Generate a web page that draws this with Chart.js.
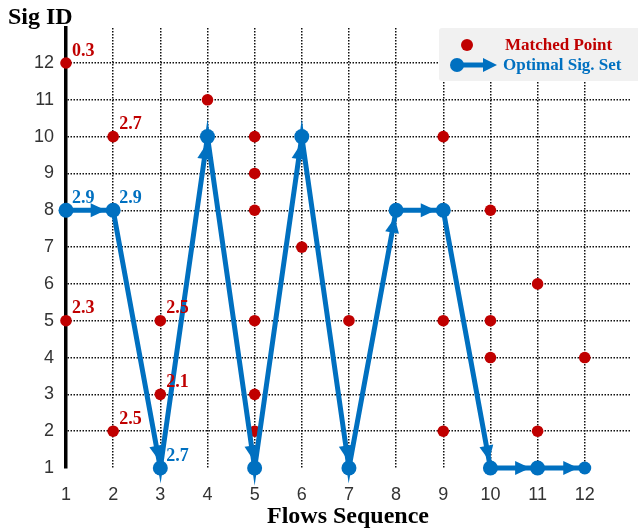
<!DOCTYPE html>
<html>
<head>
<meta charset="utf-8">
<script src="https://cdn.jsdelivr.net/npm/chart.js@4.4.0/dist/chart.umd.min.js"></script>
<style>
  html, body { margin: 0; padding: 0; background: #fff; }
  #wrap { position: relative; width: 638px; height: 531px; overflow: hidden; }
  #chart { position: absolute; left: 0; top: 0; }
  .ttl { position: absolute; font-family: "Liberation Serif", "Times New Roman", serif; font-weight: bold; font-size: 24px; color: #000; white-space: nowrap; line-height: 1; }
  #legend { position: absolute; left: 439px; top: 28px; width: 205px; height: 53px; background: #f1f1f1; border-radius: 3px; }
  .lg-row { position: absolute; left: 0; height: 20px; display: flex; align-items: center; font-family: "Liberation Serif", "Times New Roman", serif; font-weight: bold; font-size: 17px; white-space: nowrap; }
  .lg-row svg { display: block; }
</style>
</head>
<body>
<div id="wrap">
  <canvas id="chart" width="638" height="531"></canvas>
  <div class="ttl" id="yTitle" style="left:8px; top:4px;">Sig ID</div>
  <div class="ttl" id="xTitle" style="left:267px; top:503px;">Flows Sequence</div>
  <div id="legend">
    <div class="lg-row" style="top:7px; color:#c00000;">
      <svg width="66" height="20"><circle cx="28" cy="10" r="6" fill="#c00000"/></svg>Matched Point
    </div>
    <div class="lg-row" style="top:27px; color:#0070c0;">
      <svg width="64" height="20"><circle cx="18" cy="10" r="7" fill="#0070c0"/><line x1="18" y1="10" x2="46" y2="10" stroke="#0070c0" stroke-width="5"/><polygon points="58,10 44,3 44,17" fill="#0070c0"/></svg>Optimal Sig. Set
    </div>
  </div>
</div>
<script>
const RED = '#c00000';
const BLUE = '#0070c0';

// flows 1..12 and the optimal sig id picked for each
const flowSeq = [1, 2, 3, 4, 5, 6, 7, 8, 9, 10, 11, 12];
const optimalSig = [8, 8, 1, 10, 1, 10, 1, 8, 8, 1, 1, 1];
const optimalLabels = ['2.9', '2.9', '2.7', '', '', '', '', '', '', '', '', ''];

// matched points (flow, sig id, label)
const matchedFlow = [1, 1, 2, 2, 3, 3, 4, 5, 5, 5, 5, 5, 5, 6, 6, 7, 9, 9, 9, 10, 10, 10, 10, 11, 11, 12];
const matchedSig  = [12, 5, 10, 2, 5, 3, 11, 10, 9, 8, 5, 3, 2, 10, 7, 5, 10, 5, 2, 8, 5, 4, 1, 6, 2, 4];
const matchedLabels = ['0.3', '2.3', '2.7', '2.5', '2.5', '2.1'];

const xTicks = [1, 2, 3, 4, 5, 6, 7, 8, 9, 10, 11, 12];
const yTicks = [1, 2, 3, 4, 5, 6, 7, 8, 9, 10, 11, 12];

const optimalPts = flowSeq.map((f, i) => ({ x: f, y: optimalSig[i] }));
const matchedPts = matchedFlow.map((f, i) => ({ x: f, y: matchedSig[i] }));
const optimalRadius = flowSeq.map((_, i) => (i === flowSeq.length - 1 ? 6.5 : 7.5));

// arrowheads on the optimal path
const arrowPlugin = {
  id: 'arrows',
  afterDatasetsDraw(chart) {
    const meta = chart.getDatasetMeta(0);
    const ctx = chart.ctx;
    ctx.save();
    ctx.fillStyle = BLUE;
    for (let i = 0; i < meta.data.length - 1; i++) {
      const a = meta.data[i], b = meta.data[i + 1];
      const dx = b.x - a.x, dy = b.y - a.y;
      const len = Math.hypot(dx, dy);
      const ux = dx / len, uy = dy / len;
      const r = optimalRadius[i + 1];
      const tx = b.x - ux * r, ty = b.y - uy * r;
      const bx = tx - ux * 15, by = ty - uy * 15;
      ctx.beginPath();
      ctx.moveTo(tx, ty);
      ctx.lineTo(bx - uy * 7, by + ux * 7);
      ctx.lineTo(bx + uy * 7, by - ux * 7);
      ctx.closePath();
      ctx.fill();
    }
    ctx.restore();
  },
};

const labelPlugin = {
  id: 'ptLabels',
  afterDatasetsDraw(chart) {
    const ctx = chart.ctx;
    ctx.save();
    ctx.font = 'bold 18px "Liberation Serif", "Times New Roman", serif';
    ctx.textAlign = 'left';
    ctx.textBaseline = 'middle';
    const draw = (dsIndex, labels, color) => {
      const meta = chart.getDatasetMeta(dsIndex);
      ctx.fillStyle = color;
      labels.forEach((t, i) => {
        if (!t) return;
        const p = meta.data[i];
        ctx.fillText(t, p.x + 6, p.y - 12);
      });
    };
    draw(1, matchedLabels, RED);
    draw(0, optimalLabels, BLUE);
    ctx.restore();
  },
};

const tickFont = { family: '"Liberation Sans", Arial, sans-serif', size: 18 };

new Chart(document.getElementById('chart').getContext('2d'), {
  type: 'scatter',
  data: {
    datasets: [
      {
        label: 'Optimal Sig. Set',
        data: optimalPts,
        showLine: true,
        borderColor: BLUE,
        borderWidth: 5,
        backgroundColor: BLUE,
        pointRadius: optimalRadius,
        pointBorderWidth: 0,
        clip: false,
      },
      {
        label: 'Matched Point',
        data: matchedPts,
        showLine: false,
        backgroundColor: RED,
        pointRadius: 5.8,
        pointBorderWidth: 0,
        clip: false,
      },
    ],
  },
  options: {
    responsive: false,
    animation: false,
    layout: { padding: { top: 28, right: 6, left: 0, bottom: 0 } },
    plugins: { legend: { display: false }, tooltip: { enabled: false } },
    scales: {
      x: {
        type: 'linear',
        min: 1,
        max: 12.97,
        afterBuildTicks: (s) => { s.ticks = xTicks.map((v) => ({ value: v })); },
        afterFit: (s) => { s.height = 63; },
        ticks: { font: tickFont, color: '#333', padding: 16 },
        grid: { color: '#111', lineWidth: 1.5, drawTicks: false },
        border: { display: false, dash: [1.5, 1.5] },
      },
      y: {
        type: 'linear',
        min: 1,
        max: 12.95,
        afterBuildTicks: (s) => { s.ticks = yTicks.map((v) => ({ value: v })); },
        afterFit: (s) => { s.width = 66; },
        ticks: { font: tickFont, color: '#333', padding: 12 },
        grid: {
          color: (c) => (c.tick && c.tick.value === 1 ? 'rgba(0,0,0,0)' : '#111'),
          lineWidth: 1.5,
          drawTicks: false,
        },
        border: { display: true, color: '#000', width: 3.5, dash: [1.5, 1.5] },
      },
    },
  },
  plugins: [arrowPlugin, labelPlugin],
});
</script>
</body>
</html>
